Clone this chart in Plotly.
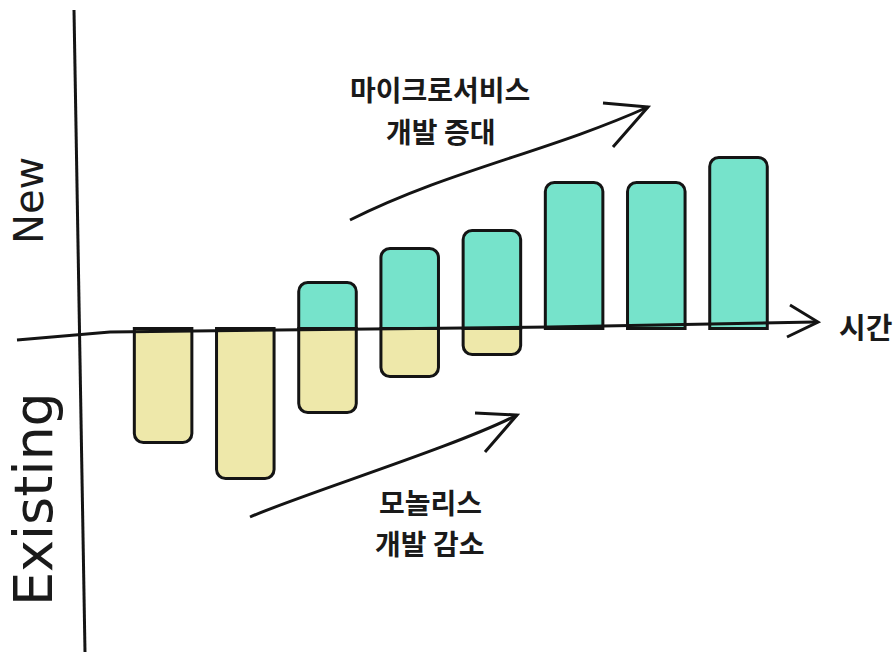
import plotly.graph_objects as go

# ---- data ----
periods = [1, 2, 3, 4, 5, 6, 7, 8]
new_dev = [None, None, 46, 80, 98, 146, 146, 171]          # microservice development (above axis)
existing_dev = [-114, -150, -84, -48, -26, None, None, None]  # monolith development (below axis)

top_label = ["마이크로서비스", "개발 증대"]
bottom_label = ["모놀리스", "개발 감소"]
x_title = "시간"
y_top_title = "New"
y_bottom_title = "Existing"

# ---- layout geometry (pixels of the 896x658 canvas) ----
W, H = 896, 658
X0_PX, STEP_PX = 163.1, 82.2   # pixel centre of period 1, spacing between periods
ZERO_PX = 328.5                # pixel row of value 0

INK = "#141414"
TEAL = "#76E3CB"
YELLOW = "#EEE8AA"


def px(x):
    return x / W


def py(y):
    return 1 - y / H


fig = go.Figure()
fig.add_bar(
    x=periods, y=existing_dev, width=0.7, name="Existing",
    marker=dict(color=YELLOW, line=dict(color=INK, width=3), cornerradius=9),
)
fig.add_bar(
    x=periods, y=new_dev, width=0.7, name="New",
    marker=dict(color=TEAL, line=dict(color=INK, width=3), cornerradius=9),
)


def path(points):
    return "M " + " L ".join(f"{px(a)},{py(b)}" for a, b in points)


def cubic(p0, c1, c2, p3):
    return (f"M {px(p0[0])},{py(p0[1])} C {px(c1[0])},{py(c1[1])} "
            f"{px(c2[0])},{py(c2[1])} {px(p3[0])},{py(p3[1])}")


line_style = dict(color=INK, width=3)
shapes = [
    # vertical axis
    dict(type="path", path=path([(74, 10), (85, 652)])),
    # horizontal axis (hand drawn, slightly tilted)
    dict(type="path", path=path([(17, 340), (110, 332), (550, 327), (815, 322)])),
    dict(type="path", path=path([(790, 305), (818, 322), (787, 337)])),
    # upper trend arrow
    dict(type="path", path=cubic((350, 220), (450, 170), (548, 152), (648, 107))),
    dict(type="path", path=path([(603, 103), (648, 107), (613, 147)])),
    # lower trend arrow
    dict(type="path", path=cubic((250, 517), (300, 495), (460, 445), (517, 415))),
    dict(type="path", path=path([(475, 413), (517, 415), (485, 452)])),
]
for s in shapes:
    s.update(xref="paper", yref="paper", line=line_style, layer="above")

kfont = dict(family="Noto Sans CJK KR", size=28, color="#1a1a1a", weight="bold")
hfont = dict(family="DejaVu Sans", color="#1a1a1a")


def ann(text, x, y, font, angle=0):
    return dict(text=text, x=px(x), y=py(y), xref="paper", yref="paper",
                showarrow=False, xanchor="center", yanchor="middle",
                font=font, textangle=angle)


annotations = [
    ann(top_label[0], 440, 89.5, kfont),
    ann(top_label[1], 440, 130.5, kfont),
    ann(bottom_label[0], 430, 502, kfont),
    ann(bottom_label[1], 429, 543, kfont),
    ann(x_title, 865, 326, dict(kfont, size=29)),
    ann(y_top_title, 29, 201, dict(hfont, size=40), -90),
    ann(y_bottom_title, 33, 499, dict(hfont, size=54), -90),
]

fig.update_layout(
    width=W, height=H,
    margin=dict(l=0, r=0, t=0, b=0),
    paper_bgcolor="white", plot_bgcolor="white",
    barmode="relative", showlegend=False,
    xaxis=dict(range=[1 - X0_PX / STEP_PX, 1 + (W - X0_PX) / STEP_PX],
               visible=False, fixedrange=True),
    yaxis=dict(range=[ZERO_PX - H, ZERO_PX], visible=False, fixedrange=True),
    shapes=shapes, annotations=annotations,
)

fig.write_html(
    "out.html",
    config={"displayModeBar": False},
    post_script="document.body.style.margin='0';document.body.style.overflow='hidden';",
)
